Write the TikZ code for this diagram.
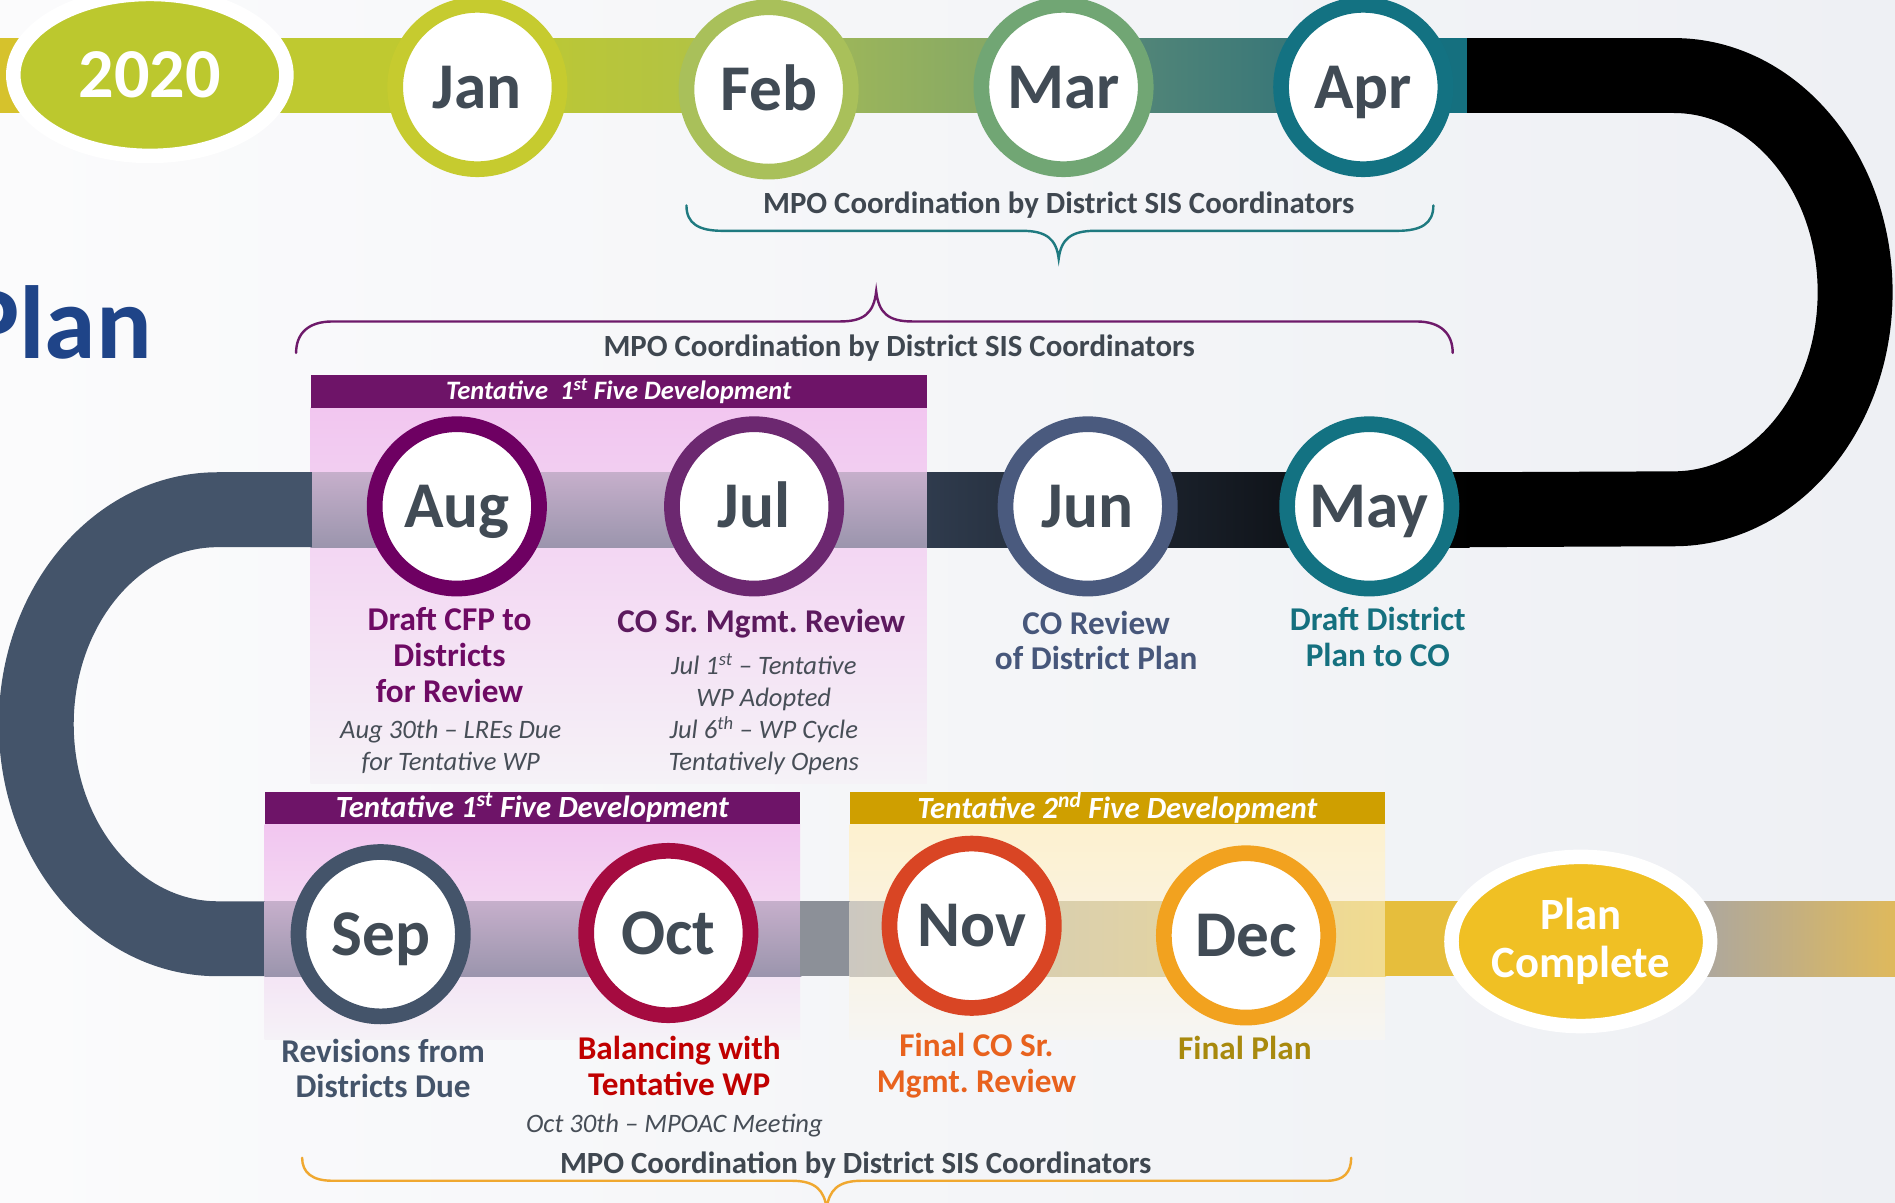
\documentclass[tikz,border=0pt]{standalone}
\usepackage{fontspec}
\setmainfont{Carlito}
\usetikzlibrary{shapes.geometric}
\frenchspacing
\definecolor{bgA}{HTML}{FBFBFC}
\definecolor{bgB}{HTML}{EEF0F4}
\definecolor{monthtext}{HTML}{414B55}
\definecolor{notetext}{HTML}{474E57}
\definecolor{mpotext}{HTML}{3F4750}
\definecolor{slate}{HTML}{44546A}
\definecolor{cJan}{HTML}{C6CB2F}
\definecolor{cFeb}{HTML}{A9C05A}
\definecolor{cMar}{HTML}{71A674}
\definecolor{cApr}{HTML}{137282}
\definecolor{cMay}{HTML}{137282}
\definecolor{cJun}{HTML}{4A5A7E}
\definecolor{cJul}{HTML}{6C2870}
\definecolor{cAug}{HTML}{6E0062}
\definecolor{cSep}{HTML}{44546A}
\definecolor{cOct}{HTML}{A50B40}
\definecolor{cNov}{HTML}{D94524}
\definecolor{cDec}{HTML}{F2A21F}
\definecolor{tAug}{HTML}{6E0A64}
\definecolor{tJul}{HTML}{5C1A5E}
\definecolor{tJun}{HTML}{47577B}
\definecolor{tMay}{HTML}{15707F}
\definecolor{tSep}{HTML}{44546A}
\definecolor{tOct}{HTML}{C00000}
\definecolor{tNov}{HTML}{E8621E}
\definecolor{tDec}{HTML}{A8890E}
\definecolor{gold}{HTML}{F0C024}
\definecolor{lime}{HTML}{BCC82E}
\definecolor{hdrpurple}{HTML}{6E1468}
\definecolor{hdrgold}{HTML}{CF9F00}
\definecolor{planblue}{HTML}{1F4488}
\definecolor{braceteal}{HTML}{1F7A80}
\definecolor{bracepurple}{HTML}{6E1A6A}
\definecolor{braceorange}{HTML}{F0A830}
\definecolor{pinkA}{HTML}{F2C6F0}
\definecolor{pinkB}{HTML}{F5F2F7}
\definecolor{creamA}{HTML}{FDF1CF}
\definecolor{creamB}{HTML}{F6F5F3}
\definecolor{bY}{HTML}{D6C22C}
\definecolor{b1}{HTML}{BFC930}
\definecolor{b2}{HTML}{AEC14A}
\definecolor{b3}{HTML}{A6BC55}
\definecolor{b4}{HTML}{7CA26A}
\definecolor{b5}{HTML}{5E8C78}
\definecolor{b6}{HTML}{2C7078}
\definecolor{b7}{HTML}{15707F}
\definecolor{d1}{HTML}{2F3B4D}
\definecolor{d2}{HTML}{1E2430}
\definecolor{pgTop}{HTML}{C6AFCB}
\definecolor{pgBot}{HTML}{9B95AD}
\definecolor{grayseg}{HTML}{8C9098}
\definecolor{cr1}{HTML}{CCC8C0}
\definecolor{cr2}{HTML}{F1DB90}
\definecolor{goldseg}{HTML}{E6BE3C}
\definecolor{tail1}{HTML}{A4A4AA}
\definecolor{tail2}{HTML}{DFB95C}

\begin{document}
\begin{tikzpicture}[x=1pt,y=-1pt,
  month/.style={circle, fill=white, draw=#1, line width=13pt, minimum size=136pt, inner sep=0pt,
    font=\fontsize{54}{54}\selectfont\bfseries, text=monthtext, text height=35pt, text depth=0pt},
  lbl/.style={align=center, font=\fontsize{27.5}{29.5}\selectfont\bfseries, text=#1, inner sep=0pt},
  note/.style={align=center, font=\fontsize{22}{26.5}\selectfont\itshape, text=notetext, inner sep=0pt},
  mpo/.style={font=\fontsize{25.5}{27}\selectfont\bfseries, text=mpotext, inner sep=0pt},
  hdr/.style={fill=#1, text=white, inner sep=0pt, minimum height=27pt, font=\bfseries\itshape},
  band/.style={line width=62pt, draw=#1},
  bracepath/.style={draw=#1, line width=2pt, line cap=round},
]
\useasboundingbox (0,0) rectangle (1568,995);
\clip (0,0) rectangle (1568,995);
\fill[left color=bgA, right color=bgB] (0,0) rectangle (1568,995);

% tinted regions
\fill[top color=pinkA, bottom color=pinkB] (257,337) rectangle (767,648);
\fill[top color=pinkA, bottom color=pinkB] (219,682) rectangle (662,860);
\fill[top color=creamA, bottom color=creamB] (703,682) rectangle (1146,860);

% band 1
\fill[bY] (0,31.5) rectangle (20,93.5);
\fill[b1] (19,31.5) rectangle (396,93.5);
\fill[left color=b1, right color=b2] (395,31.5) rectangle (637,93.5);
\fill[left color=b3, right color=b4] (636,31.5) rectangle (881,93.5);
\fill[left color=b5, right color=b6] (880,31.5) rectangle (1129,93.5);
\fill[b7] (1128,31.5) rectangle (1216,93.5);
% right U-turn
\draw[band=black] (1214,62.5) -- (1385,62.5) arc[start angle=-90, end angle=90, x radius=150, y radius=179.25] -- (1214,421.75);
% band 2
\fill[left color=d1, middle color=d2, right color=black] (766,390.75) rectangle (1216,452.75);
\fill[top color=pgTop, bottom color=pgBot] (257,390.75) rectangle (767,452.75);
% left U-turn
\draw[band=slate] (258,421.75) -- (180,421.75) arc[start angle=270, end angle=90, x radius=150, y radius=177.5] -- (220,776.75);
% band 3
\fill[top color=pgTop, bottom color=pgBot] (219,745.75) rectangle (663,807.75);
\fill[grayseg] (662,745.75) rectangle (704,807.75);
\fill[left color=cr1, right color=cr2] (703,745.75) rectangle (1147,807.75);
\fill[goldseg] (1146,745.75) rectangle (1320,807.75);
\fill[left color=tail1, right color=tail2] (1380,745.75) rectangle (1568,807.75);

% headers
\node[hdr=hdrpurple, minimum width=510pt, font=\fontsize{22}{24}\selectfont\bfseries\itshape] (hdrA) at (512,324) {Tentative\ \ 1\textsuperscript{st} Five Development};
\node[hdr=hdrpurple, minimum width=443pt, font=\fontsize{25.5}{27}\selectfont\bfseries\itshape] (hdrB) at (440.5,668.5) {Tentative 1\textsuperscript{st} Five Development};
\node[hdr=hdrgold, minimum width=443pt, font=\fontsize{25.5}{27}\selectfont\bfseries\itshape] (hdrC) at (924.5,668.5) {Tentative 2\textsuperscript{nd} Five Development};

% year and end
\node[ellipse, fill=lime, draw=white, line width=12pt, minimum width=226pt, minimum height=134pt, inner sep=0pt,
  text=white, font=\fontsize{58}{58}\selectfont\bfseries, text height=37pt, text depth=0pt] (yr) at (124,62) {2020};
\node[ellipse, fill=gold, draw=white, line width=12pt, minimum width=214pt, minimum height=140pt, inner sep=0pt,
  align=center, text=white, font=\fontsize{37}{40}\selectfont\bfseries] (done) at (1308,779) {Plan\\Complete};

% title fragment
\node[anchor=base east, text=planblue, font=\fontsize{86}{86}\selectfont\bfseries, inner sep=0pt] (title) at (126,297) {Plan};

% months
\node[month=cJan] (jan) at (395,72) {Jan};
\node[month=cFeb] (feb) at (636,74) {Feb};
\node[month=cMar] (mar) at (880,72) {Mar};
\node[month=cApr] (apr) at (1128,72) {Apr};
\node[month=cAug] (aug) at (378,419) {Aug};
\node[month=cJul] (jul) at (624,419) {Jul};
\node[month=cJun] (jun) at (900,419) {Jun};
\node[month=cMay] (may) at (1133,419) {May};
\node[month=cSep] (sep) at (315,773) {Sep};
\node[month=cOct] (oct) at (553,772) {Oct};
\node[month=cNov] (nov) at (804,766) {Nov};
\node[month=cDec] (dec) at (1031,774) {Dec};

% labels
\node[lbl=tAug] (augL) at (372,542) {Draft CFP to\\Districts\\for Review};
\node[note] (augN) at (373,618) {Aug 30th -- LREs Due\\for Tentative WP};
\node[lbl=tJul] (julL) at (630,516) {CO Sr. Mgmt. Review};
\node[note] (julN) at (632,591) {Jul 1\textsuperscript{st} -- Tentative\\WP Adopted\\Jul 6\textsuperscript{th} -- WP Cycle\\Tentatively Opens};
\node[lbl=tJun] (junL) at (907,530) {CO Review\\of District Plan};
\node[lbl=tMay] (mayL) at (1140,527) {Draft District\\Plan to CO};
\node[lbl=tSep] (sepL) at (317,884) {Revisions from\\Districts Due};
\node[lbl=tOct] (octL) at (562,882) {Balancing with\\Tentative WP};
\node[note] (octN) at (558,931) {Oct 30th -- MPOAC Meeting};
\node[lbl=tNov] (novL) at (808,881.5) {Final CO Sr.\\Mgmt. Review};
\node[lbl=tDec] (decL) at (1030,867) {Final Plan};

% braces
\node[mpo] (mpo1) at (876,170) {MPO Coordination by District SIS Coordinators};
\draw[bracepath=braceteal] (568,170) .. controls (568,185) and (578,191) .. (598,191) -- (846,191)
  .. controls (866,191) and (874,198) .. (876,214) .. controls (878,198) and (886,191) .. (906,191)
  -- (1156,191) .. controls (1176,191) and (1186,185) .. (1186,170);
\node[mpo] (mpo2) at (744,288) {MPO Coordination by District SIS Coordinators};
\draw[bracepath=bracepurple] (245,292) .. controls (245,276) and (255,266) .. (275,266) -- (695,266)
  .. controls (715,266) and (723,259) .. (725,241) .. controls (727,259) and (735,266) .. (755,266)
  -- (1172,266) .. controls (1192,266) and (1202,276) .. (1202,292);
\node[mpo] (mpo3) at (708,964) {MPO Coordination by District SIS Coordinators};
\draw[bracepath=braceorange] (250,958) .. controls (250,970) and (258,977) .. (275,977) -- (655,977)
  .. controls (675,977) and (682,985) .. (684,1000) .. controls (686,985) and (693,977) .. (713,977)
  -- (1098,977) .. controls (1112,977) and (1118,970) .. (1118,958);
\end{tikzpicture}
\end{document}
